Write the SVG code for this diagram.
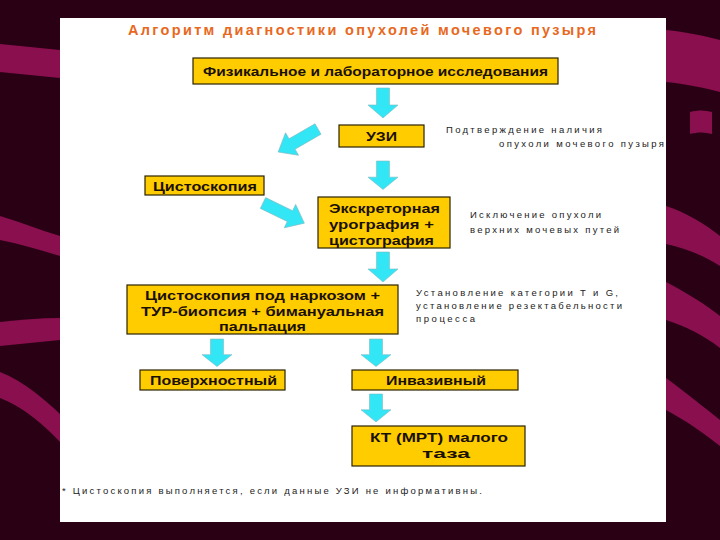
<svg xmlns="http://www.w3.org/2000/svg" width="720" height="540" viewBox="0 0 720 540">
<style>
.box{fill:#ffcc00;stroke:#2b2200;stroke-width:1.2}
.bt{font-family:"Liberation Sans",Arial,sans-serif;font-weight:bold;font-size:13px;fill:#1a1000}
.st{font-family:"Liberation Sans",Arial,sans-serif;font-size:9.5px;fill:#222}
.arr{fill:#33e6f5;stroke:#7fb8c0;stroke-width:0.6}
.stripe{fill:#8a0f4e}
</style>
<defs>
<path id="ad" d="M-6.5,0 H6.5 V17 H15 L0,30 L-15,17 H-6.5 Z"/>
</defs>
<rect x="0" y="0" width="720" height="540" fill="#2a0015"/>
<g id="background-stripes">
<path class="stripe" d="M0,44 C20,46 40,48 60,50 L60,78 C40,76 20,74 0,72 Z"/>
<path class="stripe" d="M0,216 C20,222 40,230 60,236 L60,256 C40,250 20,244 0,240 Z"/>
<path class="stripe" d="M0,322 C20,320 40,318 60,318 L60,340 C40,342 20,344 0,346 Z"/>
<path class="stripe" d="M0,372 C25,382 45,400 60,414 L60,442 C45,426 25,408 0,398 Z"/>
<path class="stripe" d="M666,30 C685,32 705,36 720,40 L720,92 C705,88 685,84 666,82 Z"/>
<path class="stripe" d="M690,112 C698,110 705,110 712,112 L712,134 C705,132 698,132 690,134 Z"/>
<path class="stripe" d="M666,206 C685,212 705,224 720,236 L720,266 C705,256 685,248 666,244 Z"/>
<path class="stripe" d="M666,282 C685,292 705,304 720,316 L720,348 C705,336 685,326 666,320 Z"/>
<path class="stripe" d="M666,378 C685,392 705,408 720,420 L720,446 C705,434 685,420 666,410 Z"/>
</g>
<rect x="60" y="18" width="606" height="504" fill="#ffffff"/>
<text x="362" y="35" text-anchor="middle" font-family="'Liberation Sans',Arial,sans-serif" font-weight="bold" font-size="14.5" fill="#e8681e" textLength="468" lengthAdjust="spacing">Алгоритм диагностики опухолей мочевого пузыря</text>
<g id="connectors">
<use href="#ad" class="arr" transform="translate(383,88)"/>
<use href="#ad" class="arr" transform="translate(383,161) scale(1,0.95)"/>
<use href="#ad" class="arr" transform="translate(383,252)"/>
<use href="#ad" class="arr" transform="translate(217,339) scale(1,0.92)"/>
<use href="#ad" class="arr" transform="translate(376,339) scale(1,0.92)"/>
<use href="#ad" class="arr" transform="translate(376,394) scale(1,0.93)"/>
<path class="arr" transform="translate(318,129) rotate(60)" d="M-6,0 H6 V30 H13 L0,46 L-13,30 H-6 Z"/>
<path class="arr" transform="translate(263,203) rotate(-64)" d="M-6,0 H6 V30 H13 L0,46 L-13,30 H-6 Z"/>
</g>
<g id="n1"><rect class="box" x="193" y="58" width="365" height="26"/>
<text class="bt" x="375.5" y="76" text-anchor="middle" textLength="345" lengthAdjust="spacingAndGlyphs">Физикальное и лабораторное исследования</text></g>
<g id="n2"><rect class="box" x="339" y="125" width="85" height="22"/>
<text class="bt" x="381.5" y="141" text-anchor="middle" textLength="31" lengthAdjust="spacingAndGlyphs">УЗИ</text></g>
<g id="n3"><rect class="box" x="145" y="176" width="119" height="19"/>
<text class="bt" x="205" y="190.5" text-anchor="middle" textLength="104" lengthAdjust="spacingAndGlyphs">Цистоскопия</text></g>
<g id="n4"><rect class="box" x="318" y="197" width="132" height="51"/>
<text class="bt" x="329" y="213" textLength="111" lengthAdjust="spacingAndGlyphs">Экскреторная</text>
<text class="bt" x="329" y="229" textLength="105" lengthAdjust="spacingAndGlyphs">урография +</text>
<text class="bt" x="329" y="244.5" textLength="105" lengthAdjust="spacingAndGlyphs">цистография</text></g>
<g id="n5"><rect class="box" x="127" y="285" width="271" height="49"/>
<text class="bt" x="262.5" y="300" text-anchor="middle" textLength="235" lengthAdjust="spacingAndGlyphs">Цистоскопия под наркозом +</text>
<text class="bt" x="262.5" y="315.5" text-anchor="middle" textLength="243" lengthAdjust="spacingAndGlyphs">ТУР-биопсия + бимануальная</text>
<text class="bt" x="262.5" y="331" text-anchor="middle" textLength="87" lengthAdjust="spacingAndGlyphs">пальпация</text></g>
<g id="n6"><rect class="box" x="140" y="370" width="145" height="20"/>
<text class="bt" x="213.5" y="385" text-anchor="middle" textLength="127" lengthAdjust="spacingAndGlyphs">Поверхностный</text></g>
<g id="n7"><rect class="box" x="352" y="370" width="166" height="20"/>
<text class="bt" x="436" y="385" text-anchor="middle" textLength="100" lengthAdjust="spacingAndGlyphs">Инвазивный</text></g>
<g id="n8"><rect class="box" x="352" y="426" width="173" height="40"/>
<text class="bt" x="439" y="442" text-anchor="middle" textLength="138" lengthAdjust="spacingAndGlyphs">КТ (МРТ) малого</text>
<text class="bt" x="446" y="458" text-anchor="middle" textLength="48" lengthAdjust="spacingAndGlyphs">таза</text></g>
<g id="side-notes">
<text class="st" x="446" y="133" textLength="156" lengthAdjust="spacing">Подтверждение наличия</text>
<text class="st" x="499" y="147" textLength="165" lengthAdjust="spacing">опухоли мочевого пузыря</text>
<text class="st" x="470" y="218" textLength="131" lengthAdjust="spacing">Исключение опухоли</text>
<text class="st" x="470" y="233" textLength="149" lengthAdjust="spacing">верхних мочевых путей</text>
<text class="st" x="416" y="296" textLength="202" lengthAdjust="spacing">Установление категории T и G,</text>
<text class="st" x="416" y="309" textLength="206" lengthAdjust="spacing">установление резектабельности</text>
<text class="st" x="416" y="322" textLength="59" lengthAdjust="spacing">процесса</text>
<text class="st" x="62" y="494" textLength="420" lengthAdjust="spacing">* Цистоскопия выполняется, если данные УЗИ не информативны.</text>
</g>
</svg>
